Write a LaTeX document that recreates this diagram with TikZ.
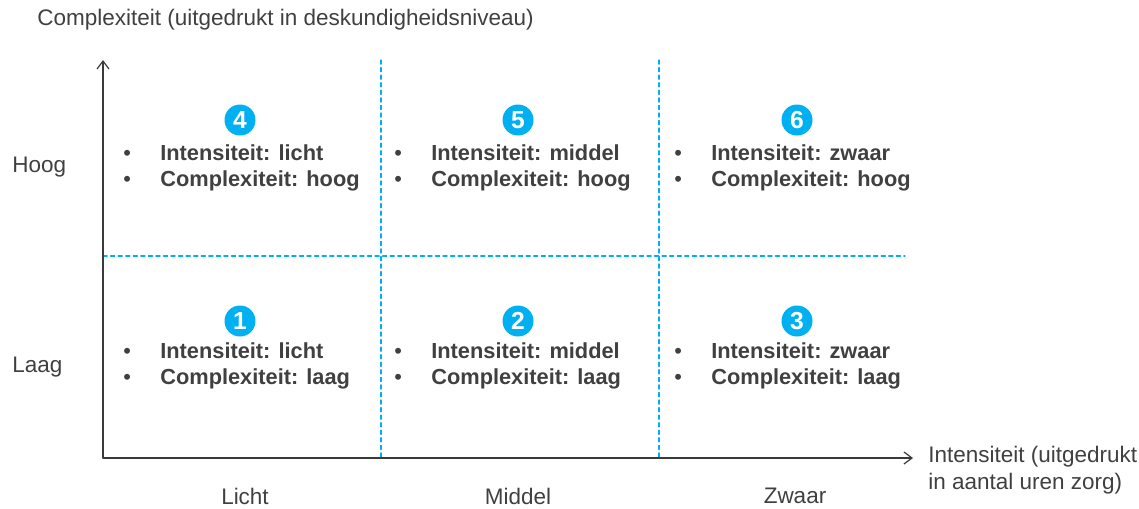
\documentclass[tikz,border=0pt]{standalone}
\usepackage{fontspec}
\setmainfont{Liberation Sans}
\usepackage{xcolor}
\usetikzlibrary{arrows.meta}
\definecolor{txtgray}{HTML}{404040}
\definecolor{axisgray}{HTML}{3A3A3A}
\definecolor{qcyan}{HTML}{00B0F0}
\tikzset{
  quadline/.style={color=qcyan,dashed,dash pattern=on 2.4pt off 1.9pt,line width=0.6pt},
  axisline/.style={color=axisgray,line width=0.7pt,->},
  numdot/.style={circle,fill=qcyan,text=white,inner sep=0pt,minimum size=0.62cm,font=\fontsize{14}{16}\selectfont\bfseries},
  celltext/.style={anchor=west,inner sep=0pt,align=left,text=txtgray,font=\fontsize{12.4}{14.8}\selectfont},
  axislabel/.style={inner sep=0pt,text=txtgray,font=\fontsize{12.8}{15.2}\selectfont}
}
\newcommand{\bul}{\makebox[0.74cm][l]{\textbullet}}
\begin{document}
\begin{tikzpicture}[line cap=round,line join=round,>={Straight Barb[length=1.6mm,width=2.4mm]},x=0.02cm,y=-0.02cm]
  \useasboundingbox (0,0) rectangle (1139,508);
  % axes
  \coordinate (origin) at (103,458);
  \coordinate (ytop) at (103,60);
  \coordinate (xend) at (913,458);
  \draw [quadline] (381,60)-- (381,458);
  \draw [quadline] (659,60)-- (659,458);
  \draw [quadline] (103,256)-- (905,256);
  \draw [axisline] (origin)-- (ytop);
  \draw [axisline] (origin)-- (xend);
  % axis labels
  \node [axislabel,anchor=west] (ylab) at (37,20) {Complexiteit (uitgedrukt in deskundigheidsniveau)};
  \node [axislabel,anchor=west,align=left] (xlab) at (928,470) {Intensiteit (uitgedrukt\\in aantal uren zorg)};
  \node [axislabel,anchor=west] (hoog) at (12,167) {Hoog};
  \node [axislabel,anchor=west] (laag) at (12,367) {Laag};
  \node [axislabel] (licht) at (245,496) {Licht};
  \node [axislabel] (middel) at (518,496) {Middel};
  \node [axislabel] (zwaar) at (795,496) {Zwaar};
  % numbered circles
  \node [numdot] (n4) at (240,120) {4};
  \node [numdot] (n5) at (518,120) {5};
  \node [numdot] (n6) at (797,120) {6};
  \node [numdot] (n1) at (240,321) {1};
  \node [numdot] (n2) at (518,321) {2};
  \node [numdot] (n3) at (797,321) {3};
  % cells
  \node [celltext] (c4) at (123,168) {\bul\textbf{Intensiteit: licht}\\\bul\textbf{Complexiteit: hoog}};
  \node [celltext] (c5) at (394,168) {\bul\textbf{Intensiteit: middel}\\\bul\textbf{Complexiteit: hoog}};
  \node [celltext] (c6) at (674,168) {\bul\textbf{Intensiteit: zwaar}\\\bul\textbf{Complexiteit: hoog}};
  \node [celltext] (c1) at (123,366) {\bul\textbf{Intensiteit: licht}\\\bul\textbf{Complexiteit: laag}};
  \node [celltext] (c2) at (394,366) {\bul\textbf{Intensiteit: middel}\\\bul\textbf{Complexiteit: laag}};
  \node [celltext] (c3) at (674,366) {\bul\textbf{Intensiteit: zwaar}\\\bul\textbf{Complexiteit: laag}};
\end{tikzpicture}
\end{document}
